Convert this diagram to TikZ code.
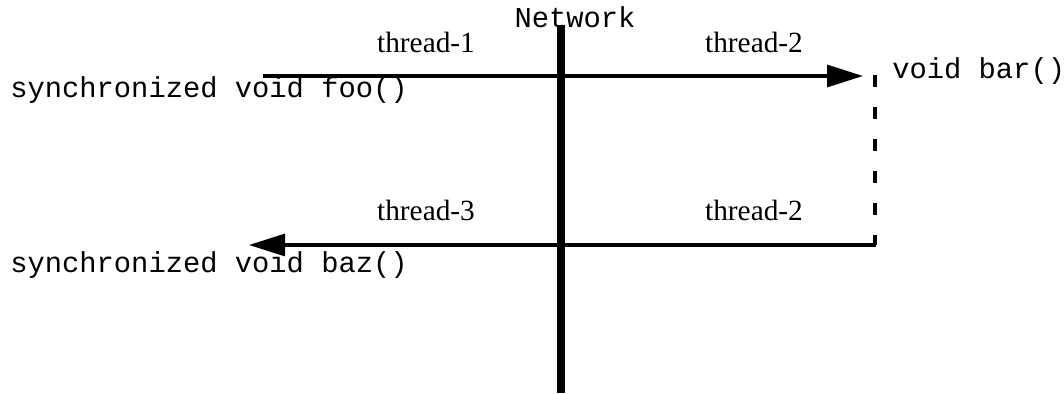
\documentclass[tikz,border=0pt]{standalone}
\usepackage{fontspec}
\setmainfont{Liberation Serif}
\newfontfamily\codefont{Liberation Mono}
\usetikzlibrary{arrows.meta}
\begin{document}
\begin{tikzpicture}[x=0.75pt,y=-0.75pt,
  lbl/.style={inner sep=0pt,anchor=base,font=\fontsize{22}{26}\selectfont},
  code/.style={inner sep=0pt,anchor=base west,font=\codefont\fontsize{21.6}{26}\selectfont},
  flow/.style={line width=2.4pt,-{Triangle[length=27pt,width=16.5pt]}},
  dashline/.style={line width=2.4pt,dash pattern=on 9pt off 15pt},
  netline/.style={line width=6.6pt}]
\useasboundingbox (0,0) rectangle (1064,393);
% network line
\coordinate (ntop) at (561,25);
\coordinate (nbot) at (561,393);
\draw[netline] (ntop) -- (nbot);
\node[code,anchor=base] (net) at (575,27) {Network};
% labels
\node[lbl] (t1) at (426,52) {thread-1};
\node[lbl] (t2a) at (754,52) {thread-2};
\node[lbl] (t3) at (426,220) {thread-3};
\node[lbl] (t2b) at (754,220) {thread-2};
\node[code] (foo) at (10,97) {synchronized void foo()};
\node[code] (baz) at (10,272) {synchronized void baz()};
\node[code] (bar) at (892,78) {void bar()};
% arrows
\coordinate (s1) at (263,76);
\coordinate (e1) at (863,76);
\coordinate (dtop) at (875,75);
\coordinate (corner) at (875,245);
\coordinate (e2) at (249,245);
\draw[flow] (s1) -- (e1);
\draw[dashline] (dtop) -- (corner);
\draw[flow] ([xshift=0.9pt]corner) -- (e2);
\end{tikzpicture}
\end{document}
